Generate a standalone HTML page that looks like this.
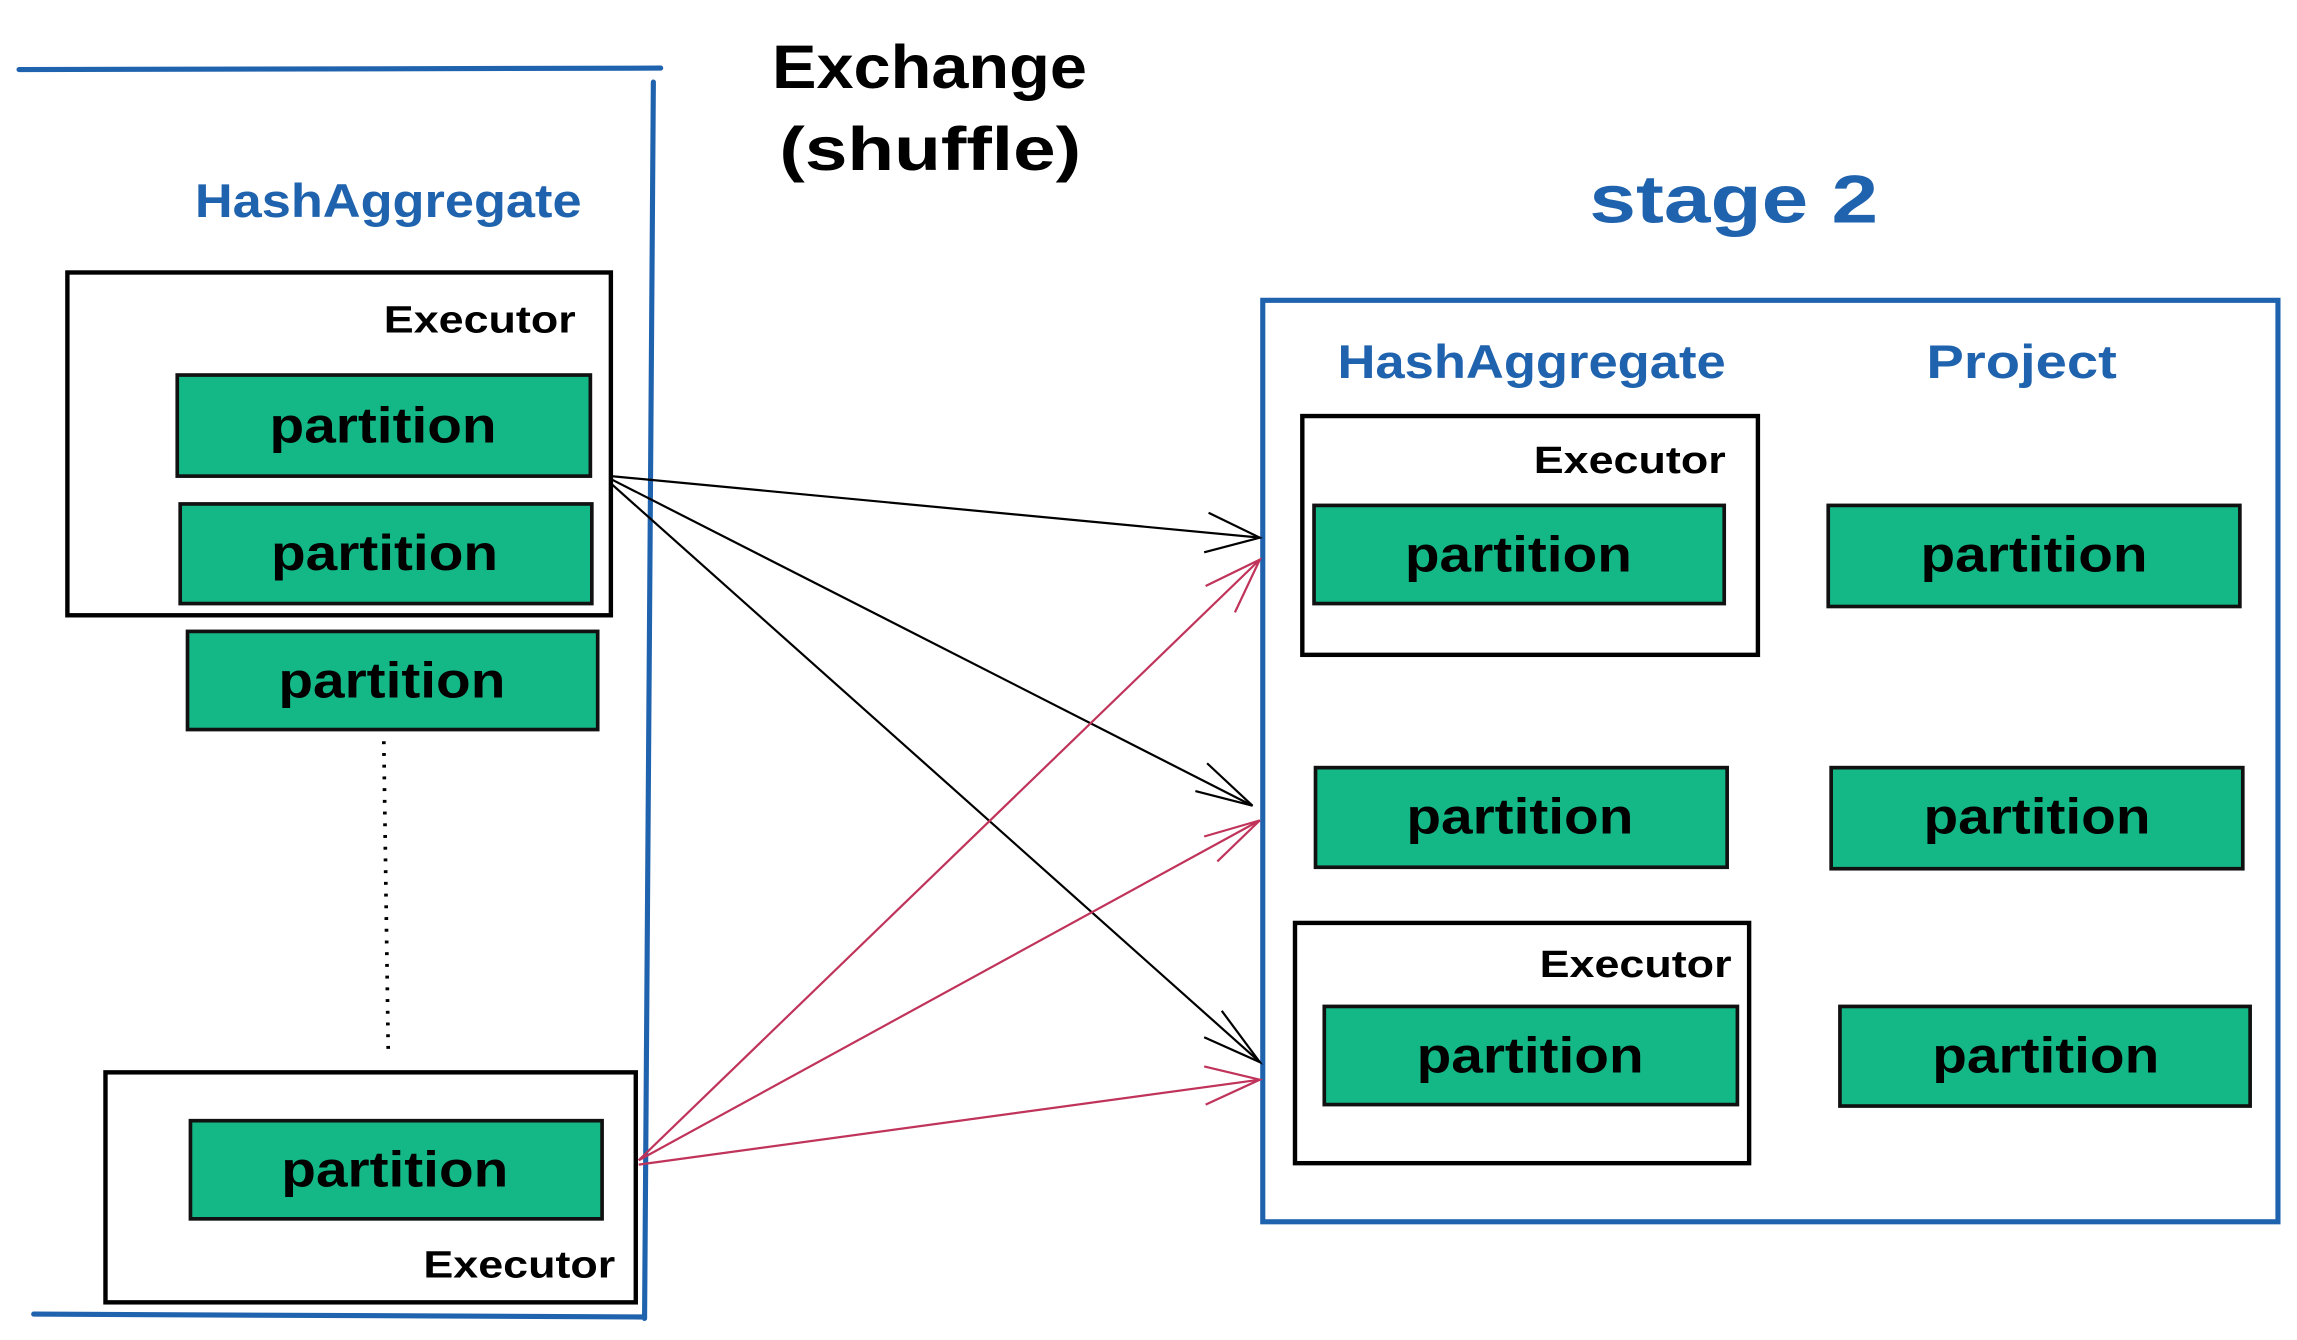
<!DOCTYPE html>
<html><head><meta charset="utf-8"><style>
html,body{margin:0;padding:0;background:#fff;width:2297px;height:1340px;overflow:hidden}
svg{display:block}
text{font-family:"Liberation Sans",sans-serif}
</style></head><body>
<svg width="2297" height="1340" viewBox="0 0 1568 914.7" preserveAspectRatio="none" xmlns="http://www.w3.org/2000/svg">
<g stroke="#1f62ad" stroke-width="3.5" fill="none" stroke-linecap="round">
<line x1="13" y1="47.5" x2="451" y2="46.5"/>
<line x1="446" y1="56" x2="440" y2="900"/>
<line x1="23" y1="897" x2="440" y2="899"/>
<rect x="862" y="205" width="693" height="629"/>
</g>
<g font-size="42" fill="#000" font-weight="bold" lengthAdjust="spacingAndGlyphs">
<text x="527" y="60" textLength="215" lengthAdjust="spacingAndGlyphs">Exchange</text>
<text x="532" y="116" textLength="206" lengthAdjust="spacingAndGlyphs">(shuffle)</text>
</g>
<g fill="#1f62ad" font-weight="bold">
<text x="133" y="148" font-size="32" textLength="264" lengthAdjust="spacingAndGlyphs">HashAggregate</text>
<text x="913" y="258" font-size="32" textLength="265" lengthAdjust="spacingAndGlyphs">HashAggregate</text>
<text x="1315" y="258" font-size="32" textLength="130" lengthAdjust="spacingAndGlyphs">Project</text>
<text x="1085" y="152" font-size="46" textLength="197" lengthAdjust="spacingAndGlyphs">stage 2</text>
</g>
<g stroke="#000" stroke-width="3" fill="none">
<rect x="46" y="186" width="371" height="234"/>
<rect x="72" y="732" width="362" height="157"/>
<rect x="889" y="284" width="311" height="163"/>
<rect x="884" y="630" width="310" height="164"/>
</g>
<g font-size="26" fill="#000" font-weight="bold">
<text x="262" y="227" textLength="131" lengthAdjust="spacingAndGlyphs">Executor</text>
<text x="289" y="872" textLength="131" lengthAdjust="spacingAndGlyphs">Executor</text>
<text x="1047" y="323" textLength="131" lengthAdjust="spacingAndGlyphs">Executor</text>
<text x="1051" y="667" textLength="131" lengthAdjust="spacingAndGlyphs">Executor</text>
</g>
<g fill="#13b886" stroke="#111" stroke-width="2.5">
<rect x="121" y="256" width="282" height="69"/>
<rect x="123" y="344" width="281" height="68"/>
<rect x="128" y="431" width="280" height="67"/>
<rect x="130" y="765" width="281" height="67"/>
<rect x="897" y="345" width="280" height="67"/>
<rect x="898" y="524" width="281" height="68"/>
<rect x="904" y="687" width="282" height="67"/>
<rect x="1248" y="345" width="281" height="69"/>
<rect x="1250" y="524" width="281" height="69"/>
<rect x="1256" y="687" width="280" height="68"/>
</g>
<g font-size="34" fill="#000" font-weight="bold">
<text x="184" y="302" textLength="155" lengthAdjust="spacingAndGlyphs">partition</text>
<text x="185" y="389" textLength="155" lengthAdjust="spacingAndGlyphs">partition</text>
<text x="190" y="476" textLength="155" lengthAdjust="spacingAndGlyphs">partition</text>
<text x="192" y="810" textLength="155" lengthAdjust="spacingAndGlyphs">partition</text>
<text x="959" y="390" textLength="155" lengthAdjust="spacingAndGlyphs">partition</text>
<text x="960" y="569" textLength="155" lengthAdjust="spacingAndGlyphs">partition</text>
<text x="967" y="732" textLength="155" lengthAdjust="spacingAndGlyphs">partition</text>
<text x="1311" y="390" textLength="155" lengthAdjust="spacingAndGlyphs">partition</text>
<text x="1313" y="569" textLength="155" lengthAdjust="spacingAndGlyphs">partition</text>
<text x="1319" y="732" textLength="155" lengthAdjust="spacingAndGlyphs">partition</text>
</g>
<line x1="262" y1="506" x2="265" y2="716" stroke="#000" stroke-width="2.5" stroke-dasharray="2 6"/>
<g stroke="#000" stroke-width="1.5" fill="none">
<line x1="417" y1="325" x2="860" y2="367"/>
<polyline points="825,350 860,367 822,377"/>
<line x1="417" y1="327" x2="855" y2="550"/>
<polyline points="824,521 855,550 816,540"/>
<line x1="417" y1="330" x2="860" y2="725"/>
<polyline points="834,690 860,725 822,708"/>
</g>
<g stroke="#c0335a" stroke-width="1.5" fill="none">
<line x1="436" y1="792" x2="860" y2="382"/>
<polyline points="823,400 860,382 843,418"/>
<line x1="436" y1="792" x2="860" y2="560"/>
<polyline points="822,571 860,560 831,588"/>
<line x1="436" y1="795" x2="860" y2="737"/>
<polyline points="822,728 860,737 823,754"/>
</g>
</svg>
</body></html>
